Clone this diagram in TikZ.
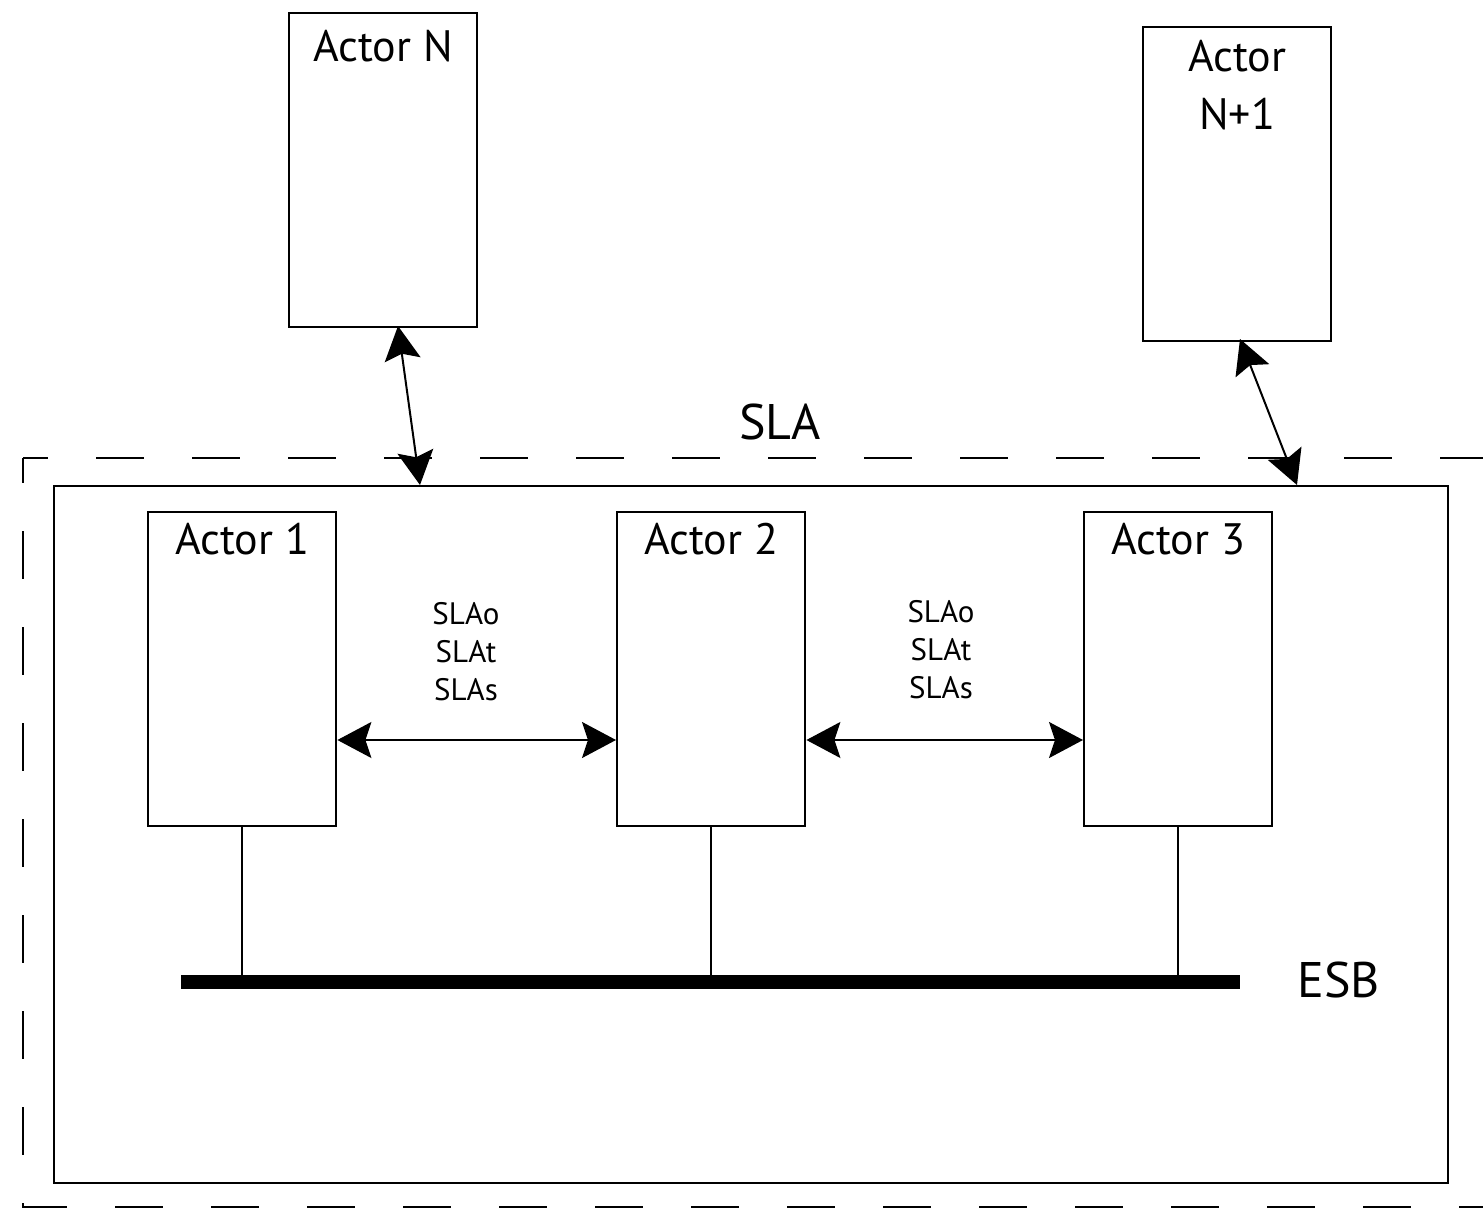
\documentclass[tikz,border=0pt]{standalone}
\usepackage{fontspec}
\setmainfont{PT Sans}
\usetikzlibrary{arrows.meta}
\begin{document}
\begin{tikzpicture}[x=0.5pt,y=-0.5pt,
  actor/.style={draw, line width=1.2pt, minimum width=94pt, minimum height=157pt,
    anchor=north west, inner sep=0pt},
  actorlabel/.style={anchor=north, inner sep=6pt, font=\fontsize{22}{29}\selectfont, align=center},
  dblarrow/.style={line width=1pt, {Stealth[length=17pt,width=18pt,inset=3pt]}-{Stealth[length=17pt,width=18pt,inset=3pt]}},
  slatext/.style={font=\fontsize{15.5}{19}\selectfont, align=center, inner sep=0pt},
  biglabel/.style={font=\fontsize{25}{30}\selectfont, inner sep=0pt},
  dashedframe/.style={line width=1.3pt, dash pattern=on 24pt off 24pt, dash phase=11.5pt},
  bus/.style={fill=black, draw=none, minimum width=529.5pt, minimum height=7pt, inner sep=0pt, anchor=north west},
  link/.style={line width=1pt}
]
\useasboundingbox (0,0) rectangle (1483,1209);
\fill[white] (0,0) rectangle (1483,1209);

% dashed SLA frame
\draw[dashedframe] (23,458) -- (1540,458);
\draw[dashedframe] (23,458) -- (23,1207) -- (1540,1207);

% inner system rectangle
\node[draw, line width=1.2pt, minimum width=697pt, minimum height=348.5pt, anchor=north west, inner sep=0pt] (sys) at (53,485) {};

% outer actors
\node[actor] (aN) at (288,12) {};
\node[actorlabel, inner sep=9pt] at (aN.north) {Actor N};
\node[actor] (aN1) at (1142,26) {};
\node[actorlabel, inner sep=7pt] at (aN1.north) {Actor\\N+1};

% inner actors
\node[actor] (a1) at (147,511) {};
\node[actorlabel] at (a1.north) {Actor 1};
\node[actor] (a2) at (616,511) {};
\node[actorlabel] at (a2.north) {Actor 2};
\node[actor] (a3) at (1083,511) {};
\node[actorlabel] at (a3.north) {Actor 3};

% SLA label
\node[biglabel] (sla) at (780,422) {SLA};

% connectors to outer actors
\coordinate (aNout) at (398,326);
\coordinate (sysinN) at (420,485);
\draw[dblarrow] (aNout) -- (sysinN);
\coordinate (aN1out) at (1240,339);
\coordinate (sysinN1) at (1297,485);
\draw[dblarrow] (aN1out) -- (sysinN1);

% horizontal arrows
\draw[dblarrow] (a1.east |- 0,740) -- (a2.west |- 0,740);
\draw[dblarrow] (a2.east |- 0,740) -- (a3.west |- 0,740);

% SLA texts
\node[slatext] (s12) at (466,652) {SLAo\\SLAt\\SLAs};
\node[slatext] (s23) at (941,650) {SLAo\\SLAt\\SLAs};

% ESB
\node[bus] (esb) at (181,975) {};
\node[biglabel, anchor=west] (esbl) at (1297,980) {ESB};
\draw[link] (a1.south) -- (a1.south |- esb.north);
\draw[link] (a2.south) -- (a2.south |- esb.north);
\draw[link] (a3.south) -- (a3.south |- esb.north);
\end{tikzpicture}
\end{document}
